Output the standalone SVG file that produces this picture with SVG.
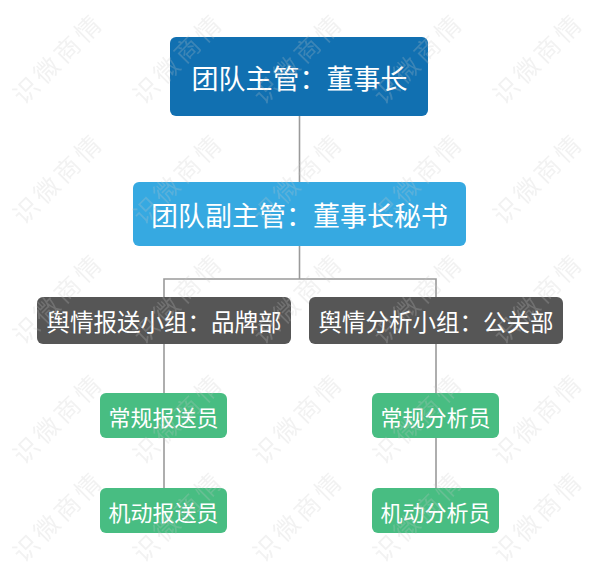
<svg xmlns="http://www.w3.org/2000/svg" width="600" height="571" viewBox="0 0 600 571">
<style>
  text { font-family: "Noto Sans CJK SC", "Noto Sans", sans-serif; text-anchor: middle; dominant-baseline: central; fill: #ffffff; }
  .conn { stroke: #9a9a9a; stroke-width: 1.6; fill: none; }
  .n1 { fill: #1170b1; }
  .n2 { fill: #36a9e1; }
  .n3 { fill: #565656; }
  .n4 { fill: #48bd82; }
  .wm text { fill: #c8c8c8; font-size: 25px; letter-spacing: 4px; }
</style>
<rect width="600" height="571" fill="#ffffff"/>
<g id="connectors">
  <line class="conn" x1="299.5" y1="115" x2="299.5" y2="182"/>
  <line class="conn" x1="299.5" y1="246" x2="299.5" y2="279"/>
  <polyline class="conn" points="164,297 164,279 436,279 436,297"/>
  <line class="conn" x1="164" y1="344" x2="164" y2="393"/>
  <line class="conn" x1="436" y1="344" x2="436" y2="393"/>
  <line class="conn" x1="164" y1="438" x2="164" y2="488"/>
  <line class="conn" x1="436" y1="438" x2="436" y2="488"/>
</g>
<g id="node-chairman">
  <rect class="n1" x="170" y="37" width="258" height="79" rx="6"/>
  <text x="299.5" y="77" font-size="27">团队主管：董事长</text>
</g>
<g id="node-secretary">
  <rect class="n2" x="133" y="182" width="333" height="64" rx="6"/>
  <text x="299.5" y="214.5" font-size="27">团队副主管：董事长秘书</text>
</g>
<g id="node-report-group">
  <rect class="n3" x="37" y="297" width="254" height="47" rx="6"/>
  <text x="164" y="321" font-size="23.5">舆情报送小组：品牌部</text>
</g>
<g id="node-analysis-group">
  <rect class="n3" x="309" y="297" width="254" height="47" rx="6"/>
  <text x="436" y="321" font-size="23.5">舆情分析小组：公关部</text>
</g>
<g id="node-regular-reporter">
  <rect class="n4" x="100" y="393" width="127" height="45" rx="6"/>
  <text x="163.5" y="416" font-size="22">常规报送员</text>
</g>
<g id="node-mobile-reporter">
  <rect class="n4" x="100" y="488" width="127" height="45" rx="6"/>
  <text x="163.5" y="511" font-size="22">机动报送员</text>
</g>
<g id="node-regular-analyst">
  <rect class="n4" x="372" y="393" width="127" height="45" rx="6"/>
  <text x="435.5" y="416" font-size="22">常规分析员</text>
</g>
<g id="node-mobile-analyst">
  <rect class="n4" x="372" y="488" width="127" height="45" rx="6"/>
  <text x="435.5" y="511" font-size="22">机动分析员</text>
</g>
<g id="watermark" class="wm" opacity="0.24">
  <text transform="translate(57,57) rotate(-45)">识微商情</text>
  <text transform="translate(177,57) rotate(-45)">识微商情</text>
  <text transform="translate(297,57) rotate(-45)">识微商情</text>
  <text transform="translate(417,57) rotate(-45)">识微商情</text>
  <text transform="translate(537,57) rotate(-45)">识微商情</text>
  <text transform="translate(57,177) rotate(-45)">识微商情</text>
  <text transform="translate(177,177) rotate(-45)">识微商情</text>
  <text transform="translate(297,177) rotate(-45)">识微商情</text>
  <text transform="translate(417,177) rotate(-45)">识微商情</text>
  <text transform="translate(537,177) rotate(-45)">识微商情</text>
  <text transform="translate(57,297) rotate(-45)">识微商情</text>
  <text transform="translate(177,297) rotate(-45)">识微商情</text>
  <text transform="translate(297,297) rotate(-45)">识微商情</text>
  <text transform="translate(417,297) rotate(-45)">识微商情</text>
  <text transform="translate(537,297) rotate(-45)">识微商情</text>
  <text transform="translate(57,417) rotate(-45)">识微商情</text>
  <text transform="translate(177,417) rotate(-45)">识微商情</text>
  <text transform="translate(297,417) rotate(-45)">识微商情</text>
  <text transform="translate(417,417) rotate(-45)">识微商情</text>
  <text transform="translate(537,417) rotate(-45)">识微商情</text>
  <text transform="translate(57,515) rotate(-45)">识微商情</text>
  <text transform="translate(177,515) rotate(-45)">识微商情</text>
  <text transform="translate(297,515) rotate(-45)">识微商情</text>
  <text transform="translate(417,515) rotate(-45)">识微商情</text>
  <text transform="translate(537,515) rotate(-45)">识微商情</text>
</g>
</svg>
